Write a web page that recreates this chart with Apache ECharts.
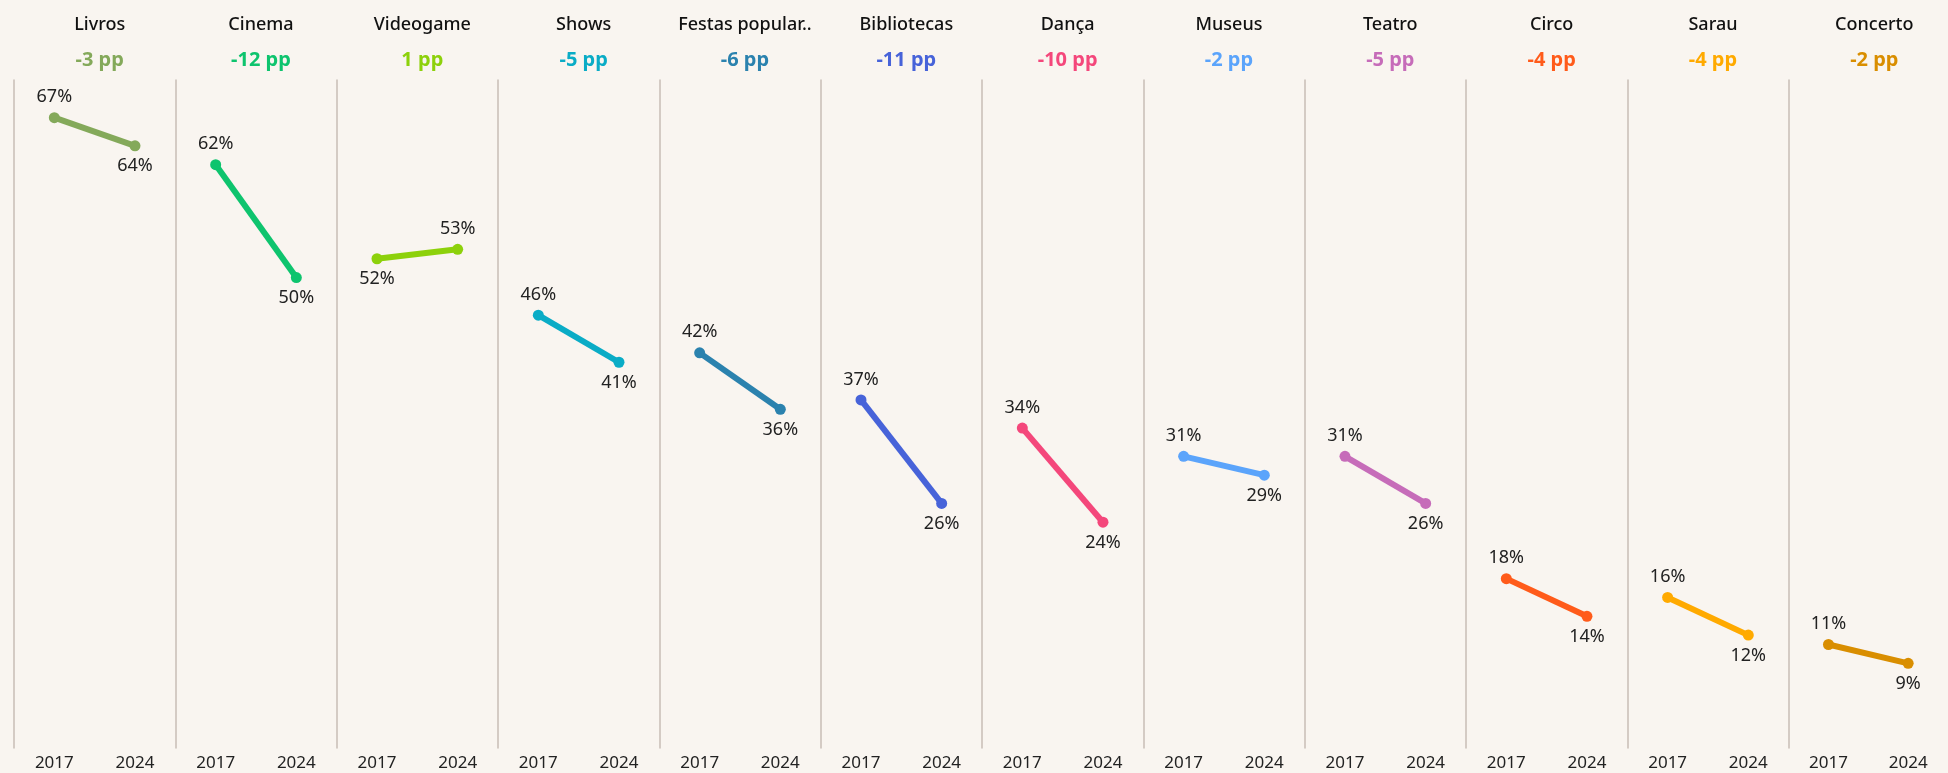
<!DOCTYPE html>
<html>
<head>
<meta charset="utf-8">
<title>Slope panels 2017-2024</title>
<script src="https://cdn.jsdelivr.net/npm/echarts@6/dist/echarts.min.js"></script>
<style>
  html, body { margin: 0; padding: 0; background: #f9f5f0; }
  #myChart { width: 1948px; height: 773px; }
</style>
</head>
<body>
<div id="myChart"></div>
<script>
// dados
var categories = ['Livros', 'Cinema', 'Videogame', 'Shows', 'Festas popular..', 'Bibliotecas',
  'Dança', 'Museus', 'Teatro', 'Circo', 'Sarau', 'Concerto'];
var years = ['2017', '2024'];
var values2017 = [67, 62, 52, 46, 42, 37, 34, 31, 31, 18, 16, 11];
var values2024 = [64, 50, 53, 41, 36, 26, 24, 29, 26, 14, 12, 9];
var colors = ['#84a95a', '#0ec46e', '#8dd10b', '#0aacc6', '#2b82ae', '#4763d9',
  '#f4477b', '#5ba4fb', '#c66cb9', '#ff5b1a', '#ffaa00', '#d98e00'];

var panelLeft = 14;
var panelW = 161.33;
var gridTop = 80;
var gridBottom = 25; // 773 - 748

var myChart = echarts.init(document.getElementById('myChart'));

var titles = [], grids = [], xAxes = [], yAxes = [], series = [];
categories.forEach(function (cat, i) {
  var left = panelLeft + i * panelW;
  var cx = left + panelW / 2;
  var a = values2017[i], b = values2024[i];
  var diff = b - a;

  titles.push({
    text: cat,
    left: cx, top: 11, textAlign: 'center',
    textStyle: { fontFamily: 'Noto Sans', fontSize: 18, fontWeight: 500, color: '#111' }
  });
  titles.push({
    text: diff + ' pp',
    left: cx, top: 45, textAlign: 'center',
    textStyle: { fontFamily: 'Noto Sans', fontSize: 20, fontWeight: 'bold', color: colors[i] }
  });

  grids.push({ left: left, top: gridTop, width: panelW, bottom: gridBottom });

  xAxes.push({
    type: 'category', gridIndex: i, data: years, boundaryGap: true,
    axisLine: { show: false }, axisTick: { show: false }, splitLine: { show: false },
    axisLabel: { margin: 7, fontFamily: 'Noto Sans', fontSize: 17, color: '#222' }
  });

  yAxes.push({
    type: 'value', gridIndex: i, min: 0, max: 71,
    axisLine: { show: true, lineStyle: { color: '#c7bdb6', width: 1.5 } },
    axisTick: { show: false }, axisLabel: { show: false }, splitLine: { show: false }
  });

  // rótulo do maior valor em cima, do menor embaixo
  var posA = a >= b ? 'top' : 'bottom';
  var posB = a >= b ? 'bottom' : 'top';
  series.push({
    type: 'line', xAxisIndex: i, yAxisIndex: i,
    data: [
      { value: a, label: { position: posA } },
      { value: b, label: { position: posB } }
    ],
    symbol: 'circle', symbolSize: 11,
    lineStyle: { color: colors[i], width: 6 },
    itemStyle: { color: colors[i] },
    label: {
      show: true, distance: 6,
      formatter: '{c}%',
      fontFamily: 'Noto Sans', fontSize: 18, color: '#222'
    },
    silent: true, animation: false
  });
});

myChart.setOption({
  backgroundColor: '#f9f5f0',
  title: titles,
  grid: grids,
  xAxis: xAxes,
  yAxis: yAxes,
  series: series
});
</script>
</body>
</html>
